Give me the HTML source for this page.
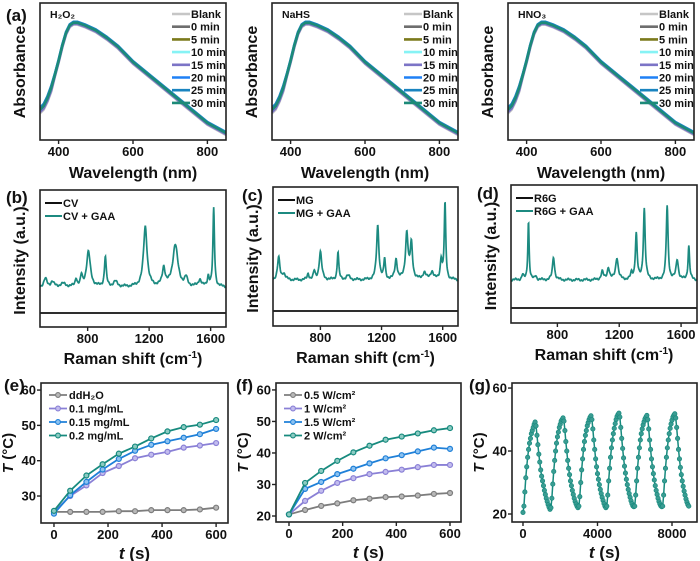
<!DOCTYPE html>
<html><head><meta charset="utf-8">
<style>
html,body{margin:0;padding:0;background:#fff;}
svg{display:block;font-family:"Liberation Sans",Arial,sans-serif;}
text{font-weight:bold;fill:#111;}
</style></head>
<body>
<svg id="fig" width="700" height="561" viewBox="0 0 700 561" xmlns="http://www.w3.org/2000/svg"></svg>
<script>
// ---------- data ----------
const wavelengths = [350,360,370,380,390,400,410,420,430,440,450,470,500,530,560,600,650,700,750,800,850];
const absorbance  = [0.27,0.30,0.36,0.44,0.55,0.66,0.78,0.88,0.94,0.96,0.96,0.94,0.90,0.84,0.77,0.65,0.53,0.41,0.29,0.17,0.09];
const uvLabels = ["Blank","0 min","5 min","10 min","15 min","20 min","25 min","30 min"];
const uvShift = [-0.01,0.0,0.005,0.01,-0.005,0.008,0.012,0.004];
const uvPanels = ["H₂O₂","NaHS","HNO₃"];
const uvTicks = [400,600,800];

const ramanTicks = [800,1200,1600];
const cvCenters = [525,570,640,725,760,805,915,980,1175,1295,1370,1440,1530,1585,1620];
const cvHeights = [8,5,3,8,10,35,30,5,60,18,42,8,7,10,78];
const cvWidths  = [12,12,22,7,7,15,7,15,14,11,20,11,11,7,6];
const cvBase = 40, cvBlank = 14;
const mgCenters = [527,560,720,760,800,915,980,1175,1220,1295,1365,1395,1480,1530,1590,1615];
const mgHeights = [22,6,6,8,28,28,4,54,20,20,46,35,7,8,20,76];
const mgWidths  = [9,12,7,7,10,6,15,9,6,9,10,9,12,12,7,6];
const mgBase = 46, mgBlank = 15;
const r6Centers = [575,613,660,775,1090,1130,1185,1280,1310,1362,1510,1575,1650];
const r6Heights = [5,59,4,23,8,12,22,6,46,71,74,20,34];
const r6Widths  = [7,5,7,8,9,9,10,7,7,7,7,9,6];
const r6Base = 43, r6Blank = 15;

const tTime = [0,60,120,180,240,300,360,420,480,540,600];
const eWater = [25.5,25.5,25.5,25.5,25.7,25.7,26,26,26,26.2,26.7];
const e01 = [25.5,30,33,36.5,38.5,40.7,41.7,42.5,43.7,44.3,45];
const e015 = [25,30.2,34,37.5,40.5,42.8,44.5,45.5,46.5,47.5,49];
const e02 = [25.8,31.5,35.8,39,42,44,46.3,48.3,49.5,50.2,51.5];
const eLabels = ["ddH₂O","0.1 mg/mL","0.15 mg/mL","0.2 mg/mL"];
const f05 = [20.5,21.9,23.2,24,25,25.5,26,26.2,26.5,27,27.3];
const f1 = [20.5,24.8,28,30.5,32,33.3,34,34.7,35.5,36.2,36.2];
const f15 = [20.5,28.6,30.8,33.3,35,36.7,38.3,39.3,40.5,41.7,41.3];
const f2 = [20.5,30.5,34.3,37.5,40.2,42.3,44.2,45.2,46.2,47.2,47.9];
const fLabels = ["0.5 W/cm²","1 W/cm²","1.5 W/cm²","2 W/cm²"];
const gStep = 50;
const gTemp = [
20.5,22.5,27,31.5,35,38,40.5,42.5,44,45.5,46.5,47.5,48.5,49.2,48,45,42,39,36.5,34,32,30.5,29,27.5,26.2,25,24,23,22.2,21.5,
22,25,29.5,33.5,37,40,42.5,44.5,46,47.5,48.5,49.5,50,50.5,49.5,46.5,43,40,37,34.5,32.5,30.5,29,27.5,26.2,25,24,23.2,22.5,22,
22.5,25.5,30,34,37.5,40.5,43,45,46.5,48,49,50,50.7,51.2,50,47,43.5,40.5,37.5,35,32.8,31,29.3,27.8,26.5,25.3,24.3,23.3,22.5,22,
22.5,26,30.5,34.5,38,41,43.5,45.5,47.2,48.7,50,51,51.6,52,50.8,47.5,44,40.8,37.8,35.2,33,31,29.3,27.8,26.5,25.3,24.2,23.3,22.6,22.3,
22.5,26,30.5,34.5,38,41,43.5,45.5,47,48.3,49.3,50.2,50.8,51.3,50,47,43.5,40.5,37.5,35,32.8,30.8,29,27.5,26.2,25,24,23.2,22.6,22.3,
22.5,26,30.5,34.5,38,41,43.5,45.5,47.2,48.6,49.8,50.8,51.4,51.8,50.5,47.5,44,40.5,37.5,34.8,32.5,30.5,28.8,27.3,26,24.8,23.8,23,22.5];
const gTicksX = [0,4000,8000];

// ---------- helpers ----------
const NS = "http://www.w3.org/2000/svg";
const svg = document.getElementById('fig');
function el(tag, attrs, parent){
  const e = document.createElementNS(NS, tag);
  for (const k in attrs) e.setAttribute(k, attrs[k]);
  (parent||svg).appendChild(e);
  return e;
}
function scale(d0,d1,r0,r1){ return v => r0 + (v-d0)/(d1-d0)*(r1-r0); }
function txt(x,y,s,size,anchor,parent){
  const t = el('text',{x:x,y:y,'font-size':size,'text-anchor':anchor||'start'},parent);
  t.textContent = s;
  return t;
}
function frame(p,g){
  const r = el('rect',{x:p.x0,y:p.y0,width:p.x1-p.x0,height:p.y1-p.y0,fill:'none',stroke:'#222','stroke-width':1.6},g);
  
  
}
function pathD(xs,ys,sx,sy){ return xs.map((x,i)=>(i?'L':'M')+sx(x).toFixed(2)+','+sy(ys[i]).toFixed(2)).join(''); }

// ---------- top row: UV-Vis ----------
const uvColors = ['#c6c6c6','#6e6e6e','#7b7a1c','#86f3f5','#7c74c6','#1f80f5','#1a84c0','#1c8a78'];
const uvFrames = [{x0:40,x1:226},{x0:272,x1:458},{x0:508,x1:694}];
uvFrames.forEach((f,pi)=>{
  const p = {x0:f.x0,x1:f.x1,y0:3,y1:140};
  const g = el('g',{});
  
  
  const sx = scale(350,850,p.x0,p.x1), sy = scale(0.04,1.12,p.y1,p.y0);
  const cp = el('clipPath',{id:'cu'+pi},g); el('rect',{x:p.x0,y:p.y0,width:p.x1-p.x0,height:p.y1-p.y0},cp);
  const lg = el('g',{'clip-path':'url(#cu'+pi+')'},g);
  uvLabels.forEach((lab,si)=>{
    const ys = absorbance.map((v,i)=> v + uvShift[si]*(i<4?2:1));
    const pth = el('path',{d:pathD(wavelengths,ys,sx,sy),fill:'none',stroke:uvColors[si],'stroke-width':2.6,'stroke-linejoin':'round'},lg);
    
    
    const ly = 14 + si*12.7;
    const ll = el('line',{x1:p.x0+132,x2:p.x0+150,y1:ly,y2:ly,stroke:uvColors[si],'stroke-width':2.6},g);
    
    
    const lt = txt(p.x0+151,ly+4,lab,11,'start',g);
    
    
  });
  frame(p,g);
  uvTicks.forEach(t=>{
    el('line',{x1:sx(t),x2:sx(t),y1:p.y1,y2:p.y1+4,stroke:'#222','stroke-width':1.4},g);
    const tl = txt(sx(t),p.y1+16,String(t),13,'middle',g);
    
    
  });
  const xt = txt((p.x0+p.x1)/2,178,'Wavelength (nm)',16,'middle',g);
  
  
  const yt = txt(0,0,'Absorbance',16,'middle',g);
  yt.setAttribute('transform','translate('+(p.x0-15)+',72) rotate(-90)');
  
  
  const nm = txt(p.x0+10,18,uvPanels[pi],10.5,'start',g);
  
  
});

// ---------- middle row: Raman ----------
const ramanPanels = [
  {x0:40,x1:226,y0:190,y1:327,d0:490,d1:1700,c:cvCenters,h:cvHeights,w:cvWidths,b:cvBase,k:cvBlank,n:['CV','CV + GAA']},
  {x0:273,x1:458,y0:187,y1:326,d0:490,d1:1700,c:mgCenters,h:mgHeights,w:mgWidths,b:mgBase,k:mgBlank,n:['MG','MG + GAA']},
  {x0:511,x1:697,y0:185,y1:323,d0:500,d1:1703,c:r6Centers,h:r6Heights,w:r6Widths,b:r6Base,k:r6Blank,n:['R6G','R6G + GAA']}
];
ramanPanels.forEach((p,pi)=>{
  const g = el('g',{});
  
  
  const sx = scale(p.d0,p.d1,p.x0,p.x1), sy = scale(0,p.y1-p.y0,p.y1,p.y0);
  const xs=[], ys=[];
  for(let x=p.d0; x<=p.d1; x+=2){
    let v=p.b + 0.8*Math.sin(x*0.11)+0.6*Math.sin(x*0.37);
    p.c.forEach((c,i)=>{ const d=(x-c)/p.w[i]; v+=p.h[i]/(1+d*d); });
    xs.push(x); ys.push(v);
  }
  const sp = el('path',{d:pathD(xs,ys,sx,sy),fill:'none',stroke:'#1c8a80','stroke-width':1.7},g);
  
  
  const bl = el('line',{x1:p.x0,x2:p.x1,y1:sy(p.k),y2:sy(p.k),stroke:'#111','stroke-width':1.8},g);
  
  
  frame(p,g);
  ramanTicks.forEach(t=>{
    el('line',{x1:sx(t),x2:sx(t),y1:p.y1,y2:p.y1+4,stroke:'#222','stroke-width':1.4},g);
    const tl = txt(sx(t),p.y1+16,String(t),13,'middle',g);
    
    
  });
  const xt = el('text',{x:(p.x0+p.x1)/2,y:p.y1+37,'font-size':16,'text-anchor':'middle'},g);
  xt.innerHTML = 'Raman shift (cm<tspan dy="-6" font-size="10">-1</tspan><tspan dy="6">)</tspan>';
  
  
  const yt = txt(0,0,'Intensity (a.u.)',16,'middle',g);
  yt.setAttribute('transform','translate('+(p.x0-15)+','+((p.y0+p.y1)/2+2)+') rotate(-90)');
  
  
  [['#111',0],['#1c8a80',1]].forEach(([col,i])=>{
    const ly = p.y0+13+i*13;
    el('line',{x1:p.x0+5,x2:p.x0+22,y1:ly,y2:ly,stroke:col,'stroke-width':2},g);
    const lt = txt(p.x0+23,ly+4,p.n[i],11,'start',g);
    
    
  });
});

// ---------- bottom row: photothermal ----------
const curveColors = ['#7d7d7d','#8a80d6','#1f80d8','#178a7e'];
const curveFill = ['#b8b8b8','#c2bcee','#8cc2f0','#8ccbc2'];
function tempPanel(p,series,labels,yt,name){
  const g = el('g',{});
  
  
  const sx = scale(p.dx0,p.dx1,p.x0,p.x1), sy = scale(p.dy0,p.dy1,p.y1,p.y0);
  series.forEach((s,si)=>{
    const pth = el('path',{d:pathD(tTime,s,sx,sy),fill:'none',stroke:curveColors[si],'stroke-width':1.8},g);
    
    
    tTime.forEach((t,i)=>{
      const c = el('circle',{cx:sx(t),cy:sy(s[i]),r:2.5,fill:curveFill[si],stroke:curveColors[si],'stroke-width':1.2},g);
      
      
    });
    const ly = p.y0+12+si*13.5;
    el('line',{x1:p.x0+8,x2:p.x0+26,y1:ly,y2:ly,stroke:curveColors[si],'stroke-width':1.8},g);
    el('circle',{cx:p.x0+17,cy:ly,r:2.4,fill:curveFill[si],stroke:curveColors[si],'stroke-width':1.1},g);
    const lt = txt(p.x0+28,ly+4,labels[si],11,'start',g);
    
    
  });
  frame(p,g);
  axesT(p,sx,sy,yt,[0,200,400,600],g);
}
function axesT(p,sx,sy,yticks,xticks,g){
  yticks.forEach(t=>{
    el('line',{x1:p.x0-4,x2:p.x0,y1:sy(t),y2:sy(t),stroke:'#222','stroke-width':1.4},g);
    const tl = txt(p.x0-5,sy(t)+4.5,String(t),13,'end',g);
    
    
  });
  xticks.forEach(t=>{
    el('line',{x1:sx(t),x2:sx(t),y1:p.y1,y2:p.y1+4,stroke:'#222','stroke-width':1.4},g);
    const tl = txt(sx(t),p.y1+16,String(t),13,'middle',g);
    
    
  });
  const xt = el('text',{x:(p.x0+p.x1)/2,y:p.y1+36,'font-size':17,'text-anchor':'middle'},g);
  xt.innerHTML = '<tspan font-style="italic">t</tspan> (s)';
  
  
  const yt = el('text',{x:0,y:0,'font-size':15,'text-anchor':'middle'},g);
  yt.innerHTML = '<tspan font-style="italic">T</tspan> (°C)';
  yt.setAttribute('transform','translate('+(p.x0-28)+','+((p.y0+p.y1)/2)+') rotate(-90)');
  
  
}
tempPanel({x0:41,x1:228,y0:383,y1:523,dx0:-48,dx1:644,dy0:22.36,dy1:62},[eWater,e01,e015,e02],eLabels,[30,40,50,60],'panel-e-concentration');
tempPanel({x0:276,x1:461,y0:383,y1:522,dx0:-48.4,dx1:641,dy0:18.1,dy1:62.2},[f05,f1,f15,f2],fLabels,[20,30,40,50,60],'panel-f-power');

// panel g: cycling
(function(){
  const p = {x0:512,x1:697,y0:383,y1:522};
  const g = el('g',{});
  
  
  const sx = scale(-590,9342,p.x0,p.x1), sy = scale(17.46,61.6,p.y1,p.y0);
  const gTime = gTemp.map((_,i)=>i*gStep);
  const pth = el('path',{d:pathD(gTime,gTemp,sx,sy),fill:'none',stroke:'#178a7e','stroke-width':1.5},g);
  
  
  gTemp.forEach((v,i)=>{
    const c = el('circle',{cx:sx(gTime[i]),cy:sy(v),r:2.2,fill:'#3a9c92',stroke:'#178a7e','stroke-width':0.7},g);
    
    
  });
  frame(p,g);
  axesT(p,sx,sy,[20,40,60],gTicksX,g);
})();

// panel letters
[['(a)',6,21],['(b)',6,203],['(c)',242,201],['(d)',477,199],['(e)',4,391],['(f)',236,391],['(g)',469,391]].forEach(([s,x,y])=>{
  const t = txt(x,y,s,17,'start');
  
  
});
</script>
</body></html>
